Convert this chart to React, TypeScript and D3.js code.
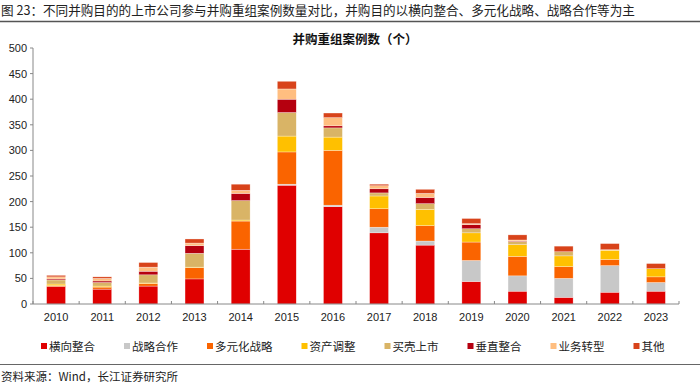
import React from "react";
import * as d3 from "d3";

const years = ["2010","2011","2012","2013","2014","2015","2016","2017","2018","2019","2020","2021","2022","2023"];
const seriesNames = ["横向整合","战略合作","多元化战略","资产调整","买壳上市","垂直整合","业务转型","其他"];
const horizontal = [34, 29, 35, 49, 107, 232, 190, 139, 115, 44, 25, 13, 23, 25];
const strategic = [0, 0, 0, 0, 0, 2, 3, 11, 8, 41, 30, 37, 52, 17];
const diversified = [2, 4, 5, 22, 55, 63, 107, 36, 30, 36, 38, 23, 12, 11];
const asset = [3, 2, 1, 1, 2, 31, 26, 25, 32, 18, 23, 21, 18, 16];
const backdoor = [8, 7, 16, 27, 38, 46, 18, 6, 11, 8, 6, 8, 0, 0];
const vertical = [2, 3, 7, 15, 14, 26, 4, 8, 12, 8, 1, 0, 0, 0];
const transform = [4, 5, 8, 5, 6, 20, 16, 6, 8, 2, 2, 0, 1, 0];
const other = [3, 3, 9, 8, 12, 15, 9, 3, 8, 10, 10, 11, 12, 10];
const yTicks = [0, 50, 100, 150, 200, 250, 300, 350, 400, 450, 500];

const colors = ["#E00000", "#C8C8C8", "#FA6400", "#FFC000", "#D9B466", "#B5000F", "#FFBE80", "#D8431A"];
const seriesValues = [horizontal, strategic, diversified, asset, backdoor, vertical, transform, other];

const CJK = '"Noto Sans CJK SC", "Noto Sans", sans-serif';
const LAT = '"Liberation Sans", Arial, sans-serif';

export default function App() {
  const x = d3.scaleBand<string>().domain(years).range([33, 679]).paddingInner(0.59).paddingOuter(0.295);
  const y = d3.scaleLinear().domain([0, 500]).range([304, 48]);
  const rows = years.map((yr, i) => {
    const r: any = { year: yr };
    seriesNames.forEach((s, k) => (r[s] = seriesValues[k][i]));
    return r;
  });
  const stacked = d3.stack<any>().keys(seriesNames)(rows);
  const step = x.step();
  const boundaries = d3.range(years.length + 1).map((i) => 33 + i * step);

  const legendFont = 11.5;
  let lx = 41;
  const legendItems = seriesNames.map((s, k) => {
    const item = { s, k, x: lx };
    lx += 9 + s.length * legendFont + 28;
    return item;
  });

  return (
    <svg width={700} height={385} style={{ position: "absolute", left: 0, top: 0, background: "#fff" }}>
      <text x={1} y={15} fontFamily={CJK} fontSize={12.6} fill="#222">图 23：不同并购目的的上市公司参与并购重组案例数量对比，并购目的以横向整合、多元化战略、战略合作等为主</text>
      <line x1={0} x2={700} y1={21.5} y2={21.5} stroke="#555" strokeWidth={1.5} />
      <text x={355} y={44} textAnchor="middle" fontFamily={CJK} fontSize={12.5} fontWeight="bold" fill="#111">并购重组案例数（个）</text>

      {stacked.map((layer, k) => (
        <g key={k} fill={colors[k]}>
          {layer.map((d, i) => {
            const h = y(d[0]) - y(d[1]);
            if (h <= 0) return null;
            return (
              <rect key={i} x={x(years[i])} width={x.bandwidth()} y={y(d[1])} height={h}
                stroke="#fff" strokeOpacity={0.6} strokeWidth={0.5} />
            );
          })}
        </g>
      ))}

      <line x1={33} x2={33} y1={48} y2={304} stroke="#888" strokeWidth={1} />
      {yTicks.map((t) => (
        <g key={t}>
          <line x1={30} x2={33} y1={y(t)} y2={y(t)} stroke="#888" />
          <text x={27} y={y(t) + 4} textAnchor="end" fontFamily={LAT} fontSize={11} fill="#222">{t}</text>
        </g>
      ))}
      <line x1={33} x2={679} y1={304} y2={304} stroke="#888" strokeWidth={1} />
      {boundaries.map((b, i) => (
        <line key={i} x1={b} x2={b} y1={301} y2={304} stroke="#888" />
      ))}
      {years.map((yr) => (
        <text key={yr} x={(x(yr) as number) + x.bandwidth() / 2} y={321} textAnchor="middle" fontFamily={LAT} fontSize={11} fill="#222">{yr}</text>
      ))}

      {legendItems.map(({ s, k, x: ix }) => (
        <g key={s}>
          <rect x={ix} y={343} width={6} height={6} fill={colors[k]} />
          <text x={ix + 8} y={350.5} fontFamily={CJK} fontSize={legendFont} fill="#222">{s}</text>
        </g>
      ))}
      <line x1={0} x2={700} y1={364.5} y2={364.5} stroke="#666" strokeWidth={1.2} />
      <text x={1} y={381} fontFamily={CJK} fontSize={11.5} fill="#222">资料来源：Wind，长江证券研究所</text>
    </svg>
  );
}
